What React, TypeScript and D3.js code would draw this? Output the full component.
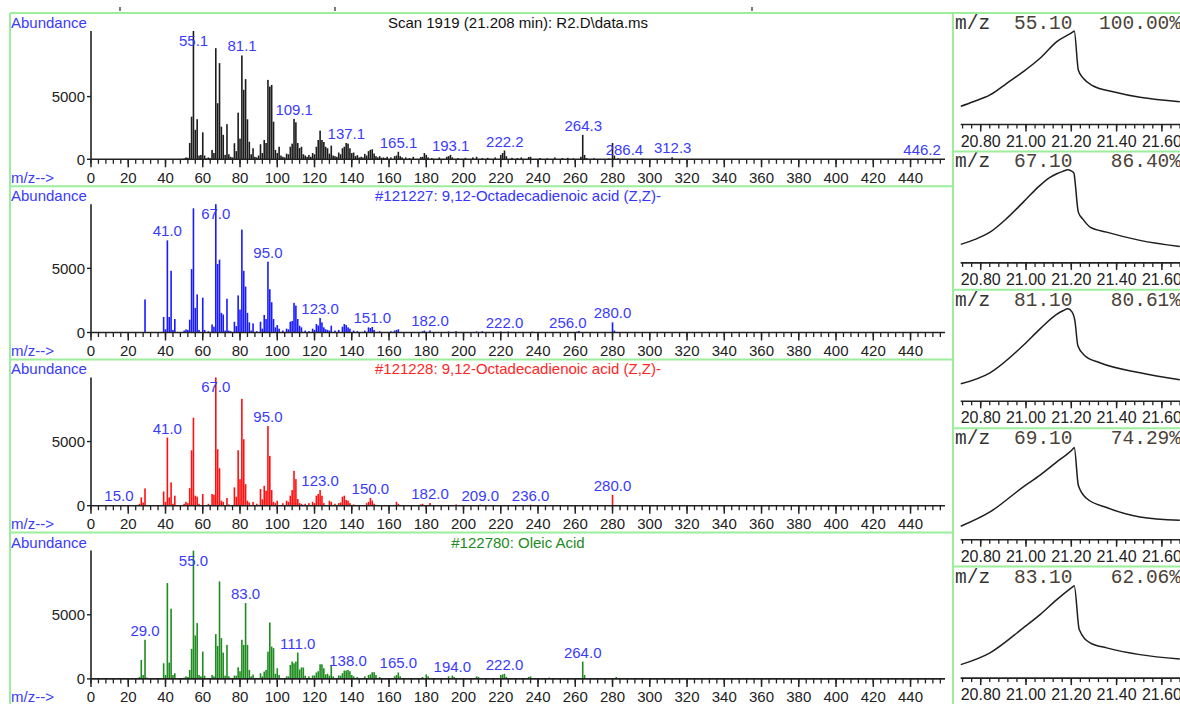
import React from 'react';
import * as d3 from 'd3';

// ---------- Mass spectra (m/z, abundance) ----------
const scanPeaks: [number, number][] = [
  [50, 60], [51, 150], [52, 120], [53, 1300], [54, 3400], [55, 10230], [56, 2350], [57, 3200], [58, 300], [59, 350],
  [60, 2150], [61, 300], [62, 80], [63, 150], [64, 100], [65, 750], [66, 500], [67, 8860], [68, 4470], [69, 7670],
  [70, 2600], [71, 1950], [72, 350], [73, 2800], [74, 400], [75, 200], [76, 150], [77, 1280], [78, 650], [79, 3720],
  [80, 1650], [81, 8280], [82, 5540], [83, 6390], [84, 3190], [85, 1400], [86, 400], [87, 880], [88, 200], [89, 150],
  [90, 300], [91, 1200], [92, 500], [93, 1540], [94, 1300], [95, 6330], [96, 5800], [97, 5930], [98, 3000], [99, 750],
  [100, 500], [101, 1000], [102, 300], [103, 200], [104, 150], [105, 450], [106, 400], [107, 1000], [108, 1250], [109, 3220],
  [110, 2950], [111, 1300], [112, 900], [113, 1000], [114, 400], [115, 300], [116, 200], [117, 350], [118, 200], [119, 500],
  [120, 400], [121, 1000], [122, 1540], [123, 2290], [124, 1540], [125, 1380], [126, 1000], [127, 880], [128, 450], [129, 1090],
  [130, 300], [131, 250], [132, 200], [133, 540], [134, 400], [135, 880], [136, 1000], [137, 1300], [138, 1250], [139, 880],
  [140, 500], [141, 540], [142, 250], [143, 330], [144, 150], [145, 200], [146, 150], [147, 430], [148, 300], [149, 650],
  [150, 760], [151, 800], [152, 460], [153, 250], [154, 150], [155, 250], [156, 120], [157, 150], [158, 100], [159, 200],
  [161, 150], [163, 250], [164, 300], [165, 600], [166, 250], [167, 150], [169, 150], [171, 100], [173, 200], [177, 180],
  [178, 200], [179, 500], [180, 350], [181, 150], [183, 100], [187, 150], [191, 200], [192, 250], [193, 350], [194, 150],
  [197, 100], [201, 120], [205, 150], [207, 200], [210, 100], [213, 120], [217, 150], [220, 350], [221, 500], [222, 700],
  [223, 250], [226, 120], [229, 100], [231, 150], [235, 180], [236, 200], [241, 100], [245, 80], [249, 150], [253, 100],
  [256, 120], [259, 80], [263, 200], [264, 1950], [265, 350], [266, 100], [270, 80], [278, 60], [280, 1300], [281, 300],
  [283, 80], [286, 30], [296, 50], [312, 160], [446, 40],
];

const lib121227Peaks: [number, number][] = [
  [29, 2580], [39, 1210], [40, 250], [41, 7180], [42, 1210], [43, 4810], [44, 200], [45, 1050], [50, 150], [51, 250],
  [52, 200], [53, 1000], [54, 4940], [55, 9680], [56, 1920], [57, 2970], [58, 200], [60, 2710], [61, 200], [63, 100],
  [65, 630], [66, 450], [67, 9999], [68, 5340], [69, 5680], [70, 1530], [71, 1400], [72, 150], [73, 2630], [74, 150],
  [75, 100], [77, 840], [78, 500], [79, 2890], [80, 1790], [81, 8020], [82, 4810], [83, 3580], [84, 1530], [85, 790],
  [86, 150], [87, 710], [89, 100], [91, 840], [92, 300], [93, 1370], [94, 1050], [95, 5520], [96, 3370], [97, 2360],
  [98, 1050], [99, 400], [100, 580], [101, 300], [103, 150], [105, 300], [106, 250], [107, 840], [108, 900], [109, 2310],
  [110, 2100], [111, 1050], [112, 530], [113, 400], [115, 150], [117, 100], [119, 300], [120, 200], [121, 660], [122, 550],
  [123, 1130], [124, 790], [125, 400], [126, 250], [127, 200], [128, 150], [129, 530], [131, 150], [133, 200], [135, 450],
  [136, 660], [137, 580], [138, 400], [139, 300], [141, 150], [143, 100], [147, 150], [149, 400], [150, 350], [151, 430],
  [152, 200], [155, 100], [161, 100], [163, 150], [164, 200], [165, 250], [178, 100], [179, 150], [182, 160], [192, 80],
  [196, 100], [207, 80], [210, 100], [220, 80], [222, 40], [224, 80], [237, 60], [256, 40], [261, 60], [262, 120],
  [280, 790], [281, 150],
];

const lib121228Peaks: [number, number][] = [
  [15, 30], [26, 150], [27, 650], [28, 250], [29, 1350], [39, 1110], [40, 300], [41, 5310], [42, 650], [43, 1820],
  [44, 150], [45, 780], [50, 150], [51, 300], [52, 200], [53, 1370], [54, 4320], [55, 6860], [56, 780], [57, 700],
  [58, 150], [60, 910], [63, 150], [65, 910], [66, 850], [67, 9999], [68, 4400], [69, 2920], [70, 390], [71, 300],
  [73, 600], [74, 100], [77, 1430], [78, 700], [79, 4320], [80, 2070], [81, 8330], [82, 5180], [83, 1680], [84, 390],
  [85, 250], [87, 300], [89, 150], [91, 1300], [92, 500], [93, 1550], [94, 1170], [95, 6210], [96, 3880], [97, 1220],
  [98, 300], [99, 200], [100, 390], [103, 200], [105, 390], [106, 300], [107, 780], [108, 1220], [109, 2720], [110, 2070],
  [111, 520], [112, 200], [113, 150], [115, 150], [117, 200], [119, 300], [120, 200], [121, 780], [122, 910], [123, 1220],
  [124, 780], [125, 200], [128, 390], [129, 300], [131, 150], [133, 200], [134, 250], [135, 700], [136, 780], [137, 450],
  [138, 390], [139, 200], [141, 100], [148, 200], [149, 300], [150, 600], [151, 400], [152, 150], [164, 300], [165, 150],
  [177, 100], [178, 150], [182, 210], [194, 60], [196, 100], [209, 80], [222, 60], [236, 80], [280, 850],
];

const oleicPeaks: [number, number][] = [
  [26, 150], [27, 1480], [28, 300], [29, 3050], [30, 100], [39, 1220], [40, 300], [41, 7470], [42, 1270], [43, 5470],
  [44, 300], [45, 440], [50, 100], [51, 200], [52, 150], [53, 700], [54, 2340], [55, 9999], [56, 3380], [57, 4350],
  [58, 300], [59, 200], [60, 2130], [61, 250], [65, 300], [66, 200], [67, 3490], [68, 2570], [69, 7600], [70, 3180],
  [71, 2050], [72, 250], [73, 2650], [74, 200], [77, 260], [78, 250], [79, 910], [80, 600], [81, 3050], [82, 2650],
  [83, 5910], [84, 2650], [85, 700], [86, 200], [87, 340], [91, 440], [92, 200], [93, 570], [94, 700], [95, 2130],
  [96, 4400], [97, 2520], [98, 2400], [99, 400], [100, 830], [101, 300], [105, 200], [106, 200], [107, 1090], [108, 1350],
  [109, 1220], [110, 1350], [111, 2050], [112, 730], [113, 890], [114, 890], [115, 250], [117, 200], [119, 270], [120, 270],
  [121, 500], [122, 600], [123, 1140], [124, 1140], [125, 830], [126, 350], [127, 400], [128, 250], [129, 1090], [130, 200],
  [133, 270], [134, 250], [135, 450], [136, 650], [137, 650], [138, 700], [139, 600], [140, 300], [141, 200], [143, 150],
  [147, 200], [149, 300], [150, 350], [151, 520], [152, 520], [153, 300], [155, 150], [163, 200], [164, 300], [165, 500],
  [166, 200], [178, 150], [180, 350], [181, 200], [192, 200], [194, 260], [195, 150], [207, 200], [208, 150], [220, 300],
  [221, 350], [222, 400], [223, 150], [235, 150], [236, 200], [246, 100], [264, 1350], [265, 300], [282, 150],
];

const scanLabels = ['55.1', '81.1', '109.1', '137.1', '165.1', '193.1', '222.2', '264.3', '286.4', '312.3', '446.2'];
const lib121227Labels = ['41.0', '67.0', '95.0', '123.0', '151.0', '182.0', '222.0', '256.0', '280.0'];
const lib121228Labels = ['15.0', '41.0', '67.0', '95.0', '123.0', '150.0', '182.0', '209.0', '236.0', '280.0'];
const oleicLabels = ['29.0', '55.0', '83.0', '111.0', '138.0', '165.0', '194.0', '222.0', '264.0'];

const panelTitles = [
  'Scan 1919 (21.208 min): R2.D\\data.ms',
  '#121227: 9,12-Octadecadienoic acid (Z,Z)-',
  '#121228: 9,12-Octadecadienoic acid (Z,Z)-',
  '#122780: Oleic Acid',
];
const titleColors = ['#111111', '#3535ff', '#ff2626', '#238a23'];
const barColors = ['#1c1c1c', '#1a1aff', '#ff1010', '#1e8c1e'];
const yMaxes = [10230, 10000, 10000, 10000];
const yTicks = [0, 5000];
const mzMajor = d3.range(0, 441, 20);
const mzMinor = d3.range(0, 459, 4);

// ---------- Extracted ion chromatograms (time min, relative %) ----------
const eicMasses = ['55.10', '67.10', '81.10', '69.10', '83.10'];
const eicPercents = ['100.00%', '86.40%', '80.61%', '74.29%', '62.06%'];
const eic55: [number, number][] = [
  [20.712, 19.5], [20.767, 24.4], [20.841, 31.6], [20.915, 44.1], [20.988, 56.5], [21.062, 70.8], [21.136, 88.6],
  [21.209, 99.3], [21.213, 100], [21.231, 58.3], [21.253, 49.4], [21.297, 41.2], [21.385, 35.1], [21.503, 29.1], [21.679, 24.4],
];
const eic67: [number, number][] = [
  [20.712, 19.8], [20.775, 25.1], [20.841, 32.9], [20.915, 47.6], [20.988, 65.0], [21.062, 82.9], [21.106, 91.4],
  [21.136, 95.4], [21.163, 97.9], [21.185, 99.5], [21.199, 98.4], [21.212, 95.7], [21.216, 88.2], [21.231, 54.3],
  [21.252, 46.5], [21.283, 38.3], [21.356, 32.9], [21.503, 24.1], [21.679, 17.6],
];
const eic81: [number, number][] = [
  [20.712, 18.7], [20.841, 30.5], [20.986, 59.4], [21.062, 77.5], [21.132, 92.5], [21.163, 96.8], [21.185, 98.9],
  [21.203, 95.7], [21.216, 86.1], [21.229, 59.4], [21.260, 48.7], [21.326, 41.2], [21.503, 30.5], [21.679, 23.0],
];
const eic69: [number, number][] = [
  [20.712, 14.4], [20.841, 29.7], [20.988, 56.5], [21.062, 69.0], [21.136, 83.2], [21.209, 97.5], [21.213, 98.6],
  [21.231, 58.3], [21.268, 44.1], [21.356, 34.4], [21.503, 24.4], [21.679, 20.9],
];
const eic83: [number, number][] = [
  [20.712, 14.4], [20.841, 27.0], [20.988, 53.7], [21.062, 67.9], [21.136, 84.0], [21.209, 98.2], [21.213, 98.9],
  [21.235, 51.9], [21.283, 37.6], [21.356, 32.3], [21.503, 25.1], [21.679, 20.5],
];
const timeMajor = [20.8, 21.0, 21.2, 21.4, 21.6];
const timeMinor = d3.range(20.72, 21.69, 0.04);

// ---------- layout ----------
const W = 1180;
const H = 704;
const LEFT = 10;
const SPLIT = 953;
const TOP0 = 13;
const PANEL_H = 173.2;
const EIC_H = 138.4;
const FRAME = '#9cee9c';
const SANS = '"Liberation Sans", Arial, Helvetica, sans-serif';
const MONO = '"Liberation Mono", "Courier New", monospace';
const LABEL_BLUE = '#3a3aff';

const spectra = [
  { peaks: scanPeaks, labels: scanLabels },
  { peaks: lib121227Peaks, labels: lib121227Labels },
  { peaks: lib121228Peaks, labels: lib121228Labels },
  { peaks: oleicPeaks, labels: oleicLabels },
];
const eics = [eic55, eic67, eic81, eic69, eic83];

const xScale = d3.scaleLinear().domain([0, 458.5]).range([91, 945]);
const tScale = d3.scaleLinear().domain([20.8, 21.6]).range([980.7, 1161.9]);

function SpectrumPanel({ index }: { index: number }) {
  const top = TOP0 + index * PANEL_H;
  const base = top + 146.3;
  const plotTop = top + 18;
  const { peaks, labels } = spectra[index];
  const y = d3.scaleLinear().domain([0, yMaxes[index]]).range([base, plotTop]);
  const lookup = new Map(peaks.map((p) => [p[0], p[1]]));
  return (
    <g>
      <text x={11} y={top + 15} fontFamily={SANS} fontSize={15} fill={LABEL_BLUE}>Abundance</text>
      <text x={(91 + 945) / 2} y={top + 15} fontFamily={SANS} fontSize={15} fill={titleColors[index]} textAnchor="middle">
        {panelTitles[index]}
      </text>
      {peaks.map(([mz, v]) => (
        <rect key={mz} x={xScale(mz) - 0.8} y={y(v)} width={1.6} height={Math.max(0, base - y(v))} fill={barColors[index]} />
      ))}
      <line x1={91} x2={91} y1={plotTop} y2={base} stroke="#222" strokeWidth={1.6} />
      {yTicks.map((t) => (
        <g key={t}>
          <line x1={87} x2={91} y1={y(t)} y2={y(t)} stroke="#222" strokeWidth={1.4} />
          <text x={85} y={y(t) + 5.3} fontFamily={SANS} fontSize={15} fill="#222" textAnchor="end">{t}</text>
        </g>
      ))}
      <line x1={91} x2={945} y1={base} y2={base} stroke="#222" strokeWidth={1.6} />
      {mzMinor.map((m) => (
        <line key={'m' + m} x1={xScale(m)} x2={xScale(m)} y1={base} y2={base + 4.5} stroke="#222" strokeWidth={1.3} />
      ))}
      {mzMajor.map((m) => (
        <g key={'M' + m}>
          <line x1={xScale(m)} x2={xScale(m)} y1={base} y2={base + 8} stroke="#222" strokeWidth={1.5} />
          <text x={xScale(m)} y={base + 23.5} fontFamily={SANS} fontSize={15} fill="#222" textAnchor="middle">{m}</text>
        </g>
      ))}
      <text x={11} y={base + 23.5} fontFamily={SANS} fontSize={15} fill={LABEL_BLUE}>m/z--&gt;</text>
      {labels.map((lab) => {
        const mz = parseFloat(lab);
        const v = lookup.get(Math.round(mz)) ?? 0;
        const by = Math.max(y(v) - 4, plotTop + 15);
        return (
          <text key={lab} x={xScale(mz)} y={by} fontFamily={SANS} fontSize={15} fill={LABEL_BLUE} textAnchor="middle">{lab}</text>
        );
      })}
    </g>
  );
}

function EicPanel({ index }: { index: number }) {
  const top = TOP0 + index * EIC_H;
  const axisY = top + 111.5;
  const y = d3.scaleLinear().domain([0, 100]).range([axisY, axisY - 93.5]);
  const line = d3.line<[number, number]>().x((d) => tScale(d[0])).y((d) => y(d[1])).curve(d3.curveMonotoneX);
  return (
    <g>
      <text x={955} y={top + 16} fontFamily={MONO} fontSize={19.5} fill="#333">m/z</text>
      <text x={1014} y={top + 16} fontFamily={MONO} fontSize={19.5} fill="#4a4238">{eicMasses[index]}</text>
      <text x={1181} y={top + 16} fontFamily={MONO} fontSize={19.5} fill="#4a4238" textAnchor="end">{eicPercents[index]}</text>
      <path d={line(eics[index]) ?? ''} fill="none" stroke="#1e1e1e" strokeWidth={1.5} />
      <line x1={960.7} x2={W} y1={axisY} y2={axisY} stroke="#222" strokeWidth={1.6} />
      {timeMinor.map((t) => (
        <line key={'m' + t} x1={tScale(t)} x2={tScale(t)} y1={axisY} y2={axisY + 4} stroke="#222" strokeWidth={1.3} />
      ))}
      {timeMajor.map((t) => (
        <g key={'M' + t}>
          <line x1={tScale(t)} x2={tScale(t)} y1={axisY} y2={axisY + 7} stroke="#222" strokeWidth={1.5} />
          <text x={tScale(t)} y={top + 133.5} fontFamily={SANS} fontSize={16} fill="#222" textAnchor="middle">{t.toFixed(2)}</text>
        </g>
      ))}
    </g>
  );
}

export default function App() {
  return (
    <svg width={W} height={H} viewBox={`0 0 ${W} ${H}`} style={{ position: 'absolute', left: 0, top: 0, background: '#fff' }}>
      <rect x={0} y={0} width={W} height={H} fill="#fff" />
      {[120, 335, 752].map((x) => (
        <line key={x} x1={x} x2={x} y1={7} y2={11} stroke="#333" strokeWidth={1.3} />
      ))}
      {[0, 1, 2, 3].map((i) => <SpectrumPanel key={i} index={i} />)}
      {[0, 1, 2, 3, 4].map((i) => <EicPanel key={i} index={i} />)}
      {/* frames */}
      <line x1={LEFT} x2={W} y1={TOP0} y2={TOP0} stroke={FRAME} strokeWidth={2} />
      <line x1={LEFT} x2={LEFT} y1={TOP0} y2={H} stroke={FRAME} strokeWidth={2} />
      <line x1={SPLIT} x2={SPLIT} y1={TOP0} y2={H} stroke={FRAME} strokeWidth={2} />
      {[1, 2, 3].map((i) => (
        <line key={'h' + i} x1={LEFT} x2={SPLIT} y1={TOP0 + i * PANEL_H} y2={TOP0 + i * PANEL_H} stroke={FRAME} strokeWidth={2} />
      ))}
      {[1, 2, 3, 4].map((i) => (
        <line key={'e' + i} x1={SPLIT} x2={W} y1={TOP0 + i * EIC_H} y2={TOP0 + i * EIC_H} stroke={FRAME} strokeWidth={2} />
      ))}
    </svg>
  );
}
